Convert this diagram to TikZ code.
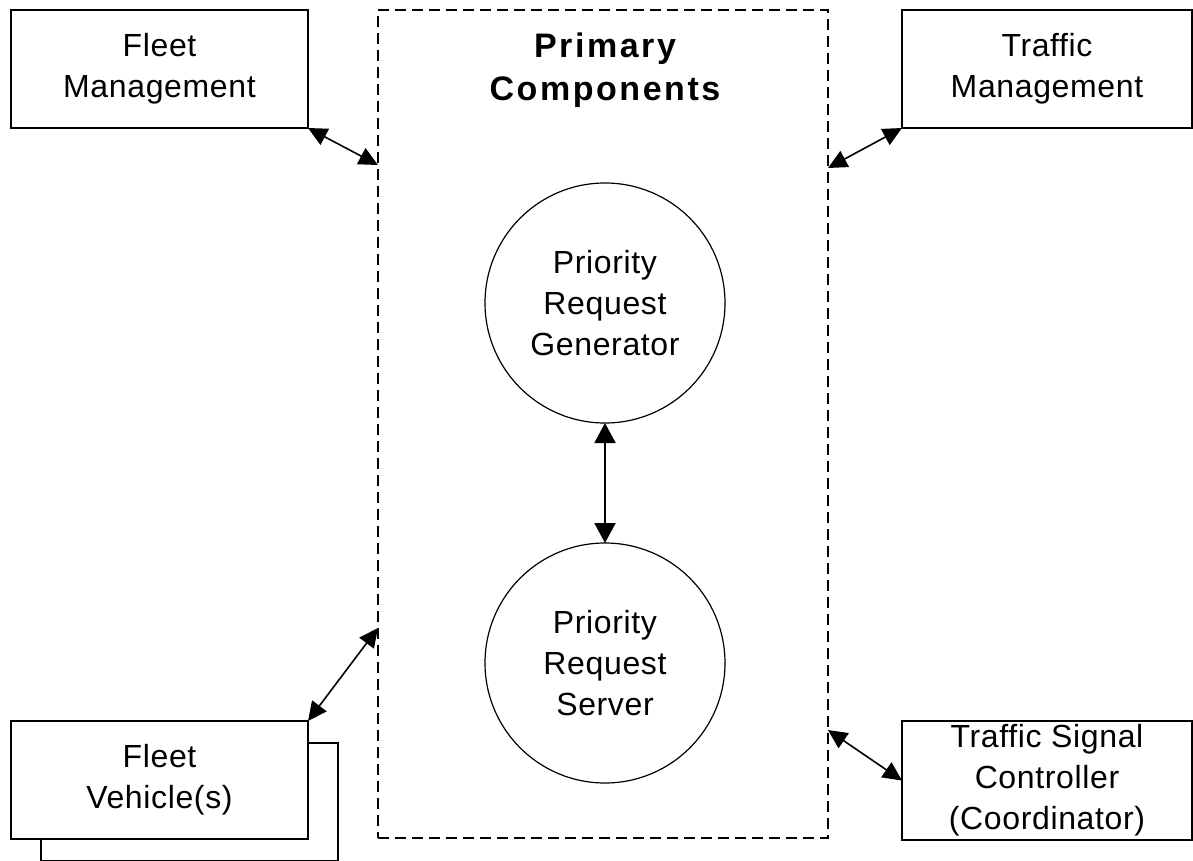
\documentclass[tikz,border=0pt]{standalone}
\usepackage{fontspec}
\setmainfont{Liberation Sans}
\usetikzlibrary{arrows.meta}
\newcommand{\boxfont}{\fontsize{16}{20.5}\selectfont\addfontfeature{LetterSpace=2}}
\newcommand{\headfont}{\fontsize{17}{21.5}\selectfont\bfseries\addfontfeature{LetterSpace=7.5}}
\tikzset{
  system/.style = {rectangle, draw=black, line width=1pt, fill=white, align=center,
    inner sep=0pt, outer sep=0pt, minimum width=148.5pt, minimum height=59pt, font=\boxfont},
  component/.style = {circle, draw=black, line width=0.6pt, align=center,
    inner sep=0pt, outer sep=0pt, minimum size=120pt, font=\boxfont},
  boundary/.style = {rectangle, draw=black, line width=1.1pt, dash pattern=on 5.5pt off 3pt,
    inner sep=0pt, outer sep=0pt, minimum width=225pt, minimum height=414pt},
  link/.style = {{Triangle[length=9.5pt,width=9pt]}-{Triangle[length=9.5pt,width=9pt]}, line width=0.8pt},
  mainlink/.style = {{Triangle[length=10pt,width=10.5pt]}-{Triangle[length=10pt,width=10.5pt]}, line width=1pt}
}

\begin{document}
\begin{tikzpicture}[x=0.5pt, y=-0.5pt]
\useasboundingbox (0,0) rectangle (1193,861);
% PRIMARY COMPONENTS
\node [boundary](Primary) at (603,424){};
\node [font=\headfont, align=center](Title) at (605,70){Primary\\Components};
\node [component](PR-Generator) at (605,303){Priority\\Request\\Generator};
\node [component](PR-Server) at (605,663){Priority\\Request\\Server};
% EXTERNAL SYSTEMS
\node [system](Fleet-Mgmt) at (159.5,69){Fleet\\Management};
\node [system, minimum width=145pt](Traffic-Mgmt) at (1047,69){Traffic\\Management};
\node [system](Fleet-Back) at (189.5,801.5){};
\node [system](Fleet-Vehicles) at (159.5,780){Fleet\\Vehicle(s)};
\node [system, minimum width=145pt, minimum height=59.5pt](Signal-Ctrl) at (1047,780.5){Traffic Signal\\Controller\\(Coordinator)};
% BOUNDARY POINTS
\coordinate (Edge-FM) at (378,165);
\coordinate (Edge-TM) at (828,168);
\coordinate (Edge-FV) at (378,628);
\coordinate (Edge-SC) at (828,730);
% LINKS
\draw [mainlink] (PR-Generator) -- (PR-Server);
\draw [link] (Fleet-Mgmt.south east) -- (Edge-FM);
\draw [link] (Edge-TM) -- (Traffic-Mgmt.south west);
\draw [link] (Fleet-Vehicles.north east) -- (Edge-FV);
\draw [link] (Edge-SC) -- (Signal-Ctrl.west);
\end{tikzpicture}
\end{document}
